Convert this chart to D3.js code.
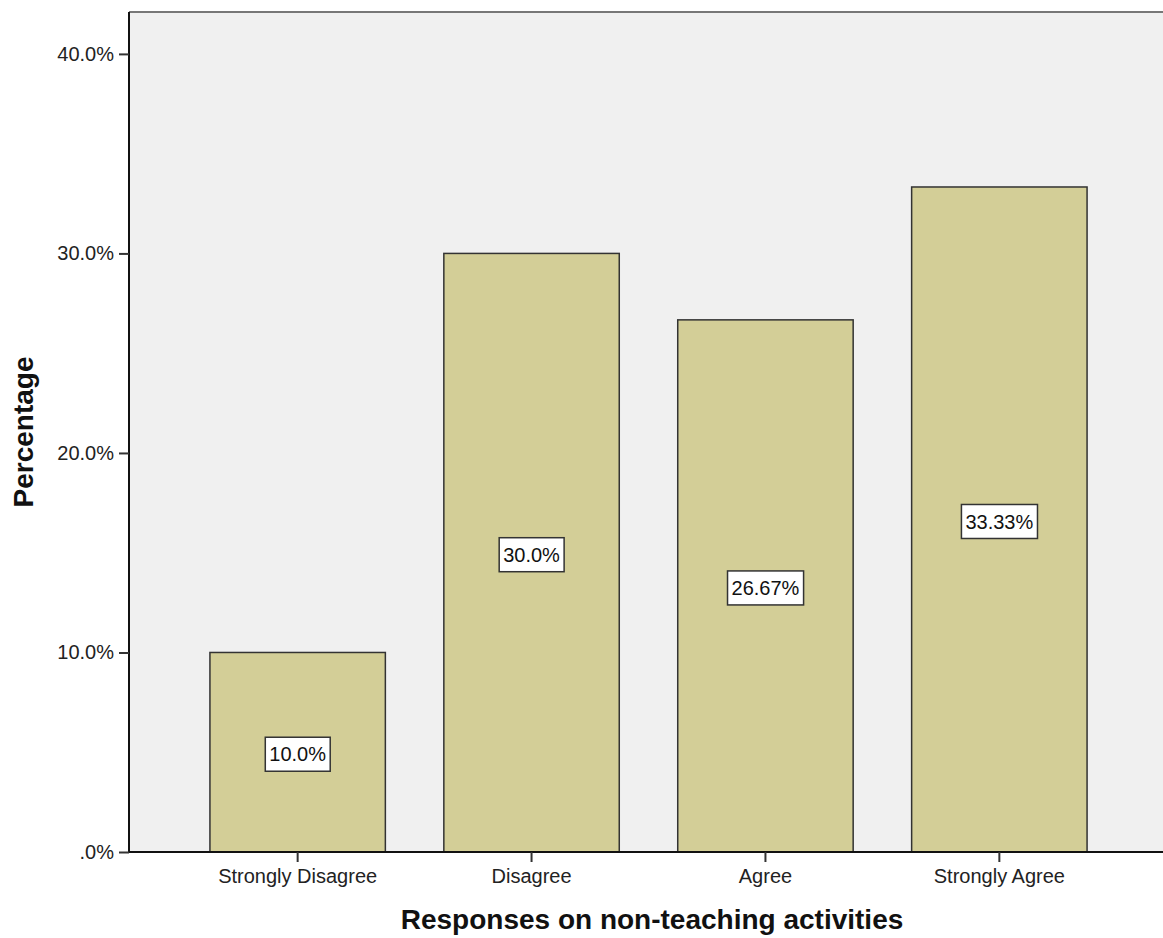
<!DOCTYPE html>
<html>
<head>
<meta charset="utf-8">
<script src="https://cdn.jsdelivr.net/npm/d3@7"></script>
<style>
  body { margin: 0; background: #fff; }
  text { font-family: "Liberation Sans", Arial, sans-serif; }
</style>
</head>
<body>
<div id="chart"></div>
<script>
const categories = ["Strongly Disagree", "Disagree", "Agree", "Strongly Agree"];
const percentages = [10.0, 30.0, 26.67, 33.33];
const valueLabels = ["10.0%", "30.0%", "26.67%", "33.33%"];
const yTicks = [0, 10, 20, 30, 40];
const yTickLabels = [".0%", "10.0%", "20.0%", "30.0%", "40.0%"];

const width = 1163, height = 938;
const margin = { left: 129, top: 12, bottom: 86 };
const plotRight = 1168;

const svg = d3.select("#chart")
  .append("svg")
  .attr("width", width)
  .attr("height", height);

const x = d3.scaleBand()
  .domain(categories)
  .range([margin.left, plotRight])
  .paddingInner(0.25)
  .paddingOuter(0.346);

const y = d3.scaleLinear()
  .domain([0, 42.1])
  .range([height - margin.bottom, margin.top]);

// plot background
svg.append("rect")
  .attr("x", margin.left)
  .attr("y", margin.top)
  .attr("width", plotRight - margin.left)
  .attr("height", y(0) - margin.top)
  .attr("fill", "#f0f0f0");

// top frame line
svg.append("line")
  .attr("x1", margin.left).attr("x2", plotRight)
  .attr("y1", margin.top).attr("y2", margin.top)
  .attr("stroke", "#777").attr("stroke-width", 2);

// bars
svg.selectAll("rect.bar")
  .data(percentages)
  .enter()
  .append("rect")
  .attr("class", "bar")
  .attr("x", (d, i) => x(categories[i]))
  .attr("y", d => y(d))
  .attr("width", x.bandwidth())
  .attr("height", d => y(0) - y(d))
  .attr("fill", "#d3ce97")
  .attr("stroke", "#333")
  .attr("stroke-width", 1.5);

// value labels in boxes
const lab = svg.selectAll("g.lab")
  .data(percentages)
  .enter()
  .append("g")
  .attr("class", "lab")
  .attr("transform", (d, i) => `translate(${x(categories[i]) + x.bandwidth() / 2},${(y(d) + y(0)) / 2 + 2})`);

lab.append("text")
  .attr("text-anchor", "middle")
  .attr("dy", "0.36em")
  .attr("font-size", 20)
  .attr("fill", "#111")
  .text((d, i) => valueLabels[i])
  .each(function() {
    const bb = this.getBBox();
    d3.select(this.parentNode).insert("rect", "text")
      .attr("x", bb.x - 4)
      .attr("y", -17)
      .attr("width", bb.width + 8)
      .attr("height", 34)
      .attr("fill", "#fff")
      .attr("stroke", "#333")
      .attr("stroke-width", 1.5);
  });

// y axis
const yAxis = svg.append("g")
  .attr("transform", `translate(${margin.left},0)`)
  .call(d3.axisLeft(y).tickValues(yTicks).tickSize(10).tickPadding(5)
    .tickFormat((d, i) => yTickLabels[i]));
yAxis.select(".domain").attr("stroke", "#111").attr("stroke-width", 2)
  .attr("d", `M0,${margin.top}V${y(0)}`);
yAxis.selectAll(".tick line").attr("stroke", "#333").attr("stroke-width", 2);
yAxis.selectAll(".tick text").attr("font-size", 20).attr("fill", "#222")
  .attr("font-family", "'Liberation Sans', Arial, sans-serif");

// x axis
const xAxis = svg.append("g")
  .attr("transform", `translate(0,${y(0)})`)
  .call(d3.axisBottom(x).tickSize(10).tickPadding(7));
xAxis.select(".domain").attr("stroke", "#111").attr("stroke-width", 2)
  .attr("d", `M${margin.left},0H${plotRight}`);
xAxis.selectAll(".tick line").attr("stroke", "#333").attr("stroke-width", 2);
xAxis.selectAll(".tick text").attr("font-size", 20).attr("fill", "#222")
  .attr("font-family", "'Liberation Sans', Arial, sans-serif");

// axis titles
svg.append("text")
  .attr("x", 652)
  .attr("y", 929)
  .attr("text-anchor", "middle")
  .attr("font-size", 28)
  .attr("font-weight", "bold")
  .attr("fill", "#111")
  .text("Responses on non-teaching activities");

svg.append("text")
  .attr("transform", `translate(33,432) rotate(-90)`)
  .attr("text-anchor", "middle")
  .attr("font-size", 28)
  .attr("font-weight", "bold")
  .attr("fill", "#111")
  .text("Percentage");
</script>
</body>
</html>
